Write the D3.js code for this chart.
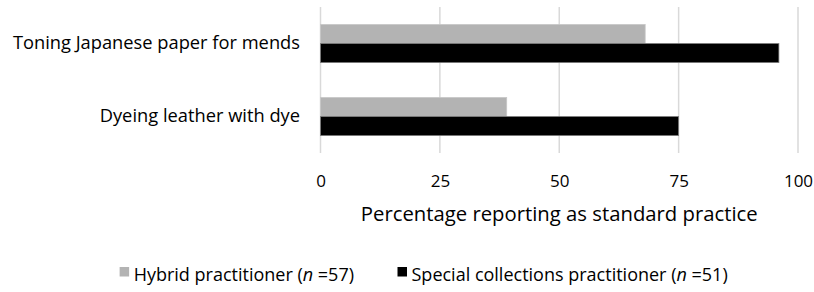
<!DOCTYPE html>
<html>
<head>
<meta charset="utf-8">
<script src="https://cdn.jsdelivr.net/npm/d3@7"></script>
<style>
  body { margin: 0; background: #fff; }
  svg text { font-family: "Open Sans", sans-serif; fill: #000; }
</style>
</head>
<body>
<div id="chart"></div>
<script>
"use strict";

// data
const categories = ["Toning Japanese paper for mends", "Dyeing leather with dye"];
const seriesNames = ["Hybrid practitioner", "Special collections practitioner"];
const seriesN = [57, 51];
const hybridValues = [68, 39];
const specialValues = [96, 75];
const xTicks = [0, 25, 50, 75, 100];
const colors = ["#b3b3b3", "#000000"];

function drawChart() {
  const width = 814, height = 292;
  const plot = { left: 320.5, right: 798, top: 7, bottom: 153 };

  const svg = d3
    .select("#chart")
    .append("svg")
    .attr("width", width)
    .attr("height", height);

  const x = d3.scaleLinear().domain([0, 100]).range([plot.left, plot.right]);

  const y = d3
    .scaleBand()
    .domain(categories)
    .range([plot.top, plot.bottom])
    .paddingInner(0.476)
    .paddingOuter(0.238);

  const ySub = d3
    .scaleBand()
    .domain([0, 1])
    .range([0, y.bandwidth()]);

  // gridlines
  svg
    .append("g")
    .selectAll("line")
    .data(xTicks)
    .enter()
    .append("line")
    .attr("x1", (d) => x(d))
    .attr("x2", (d) => x(d))
    .attr("y1", plot.top)
    .attr("y2", plot.bottom)
    .attr("stroke", "#d9d9d9")
    .attr("stroke-width", 1.5);

  // tick labels via axis
  const xAxis = d3.axisBottom(x).tickValues(xTicks).tickSize(0).tickPadding(0);
  const axisG = svg
    .append("g")
    .attr("transform", "translate(0," + plot.bottom + ")")
    .call(xAxis);
  axisG.select(".domain").remove();
  axisG
    .selectAll("text")
    .attr("dy", null)
    .attr("y", 34)
    .style("font-size", "17px")
    .style("font-family", "'Open Sans', sans-serif");

  // category labels
  svg
    .append("g")
    .selectAll("text")
    .data(categories)
    .enter()
    .append("text")
    .attr("x", 300)
    .attr("y", (d) => y(d) + y.bandwidth() / 2 + 5)
    .attr("text-anchor", "end")
    .style("font-size", "18.3px")
    .text((d) => d);

  const rows = [];
  categories.forEach((c, i) => {
    rows.push({ cat: c, s: 0, v: hybridValues[i] });
    rows.push({ cat: c, s: 1, v: specialValues[i] });
  });

  svg
    .append("g")
    .selectAll("rect")
    .data(rows)
    .enter()
    .append("rect")
    .attr("x", x(0))
    .attr("y", (d) => y(d.cat) + ySub(d.s))
    .attr("width", (d) => x(d.v) - x(0))
    .attr("height", ySub.bandwidth())
    .attr("fill", (d) => colors[d.s])
    .attr("stroke", (d) => (d.s === 1 ? "#7f7f7f" : "#c8c8c8"))
    .attr("stroke-width", 0.75);

  // axis title
  svg
    .append("text")
    .attr("x", (plot.left + plot.right) / 2)
    .attr("y", 221)
    .attr("text-anchor", "middle")
    .style("font-size", "20.3px")
    .text("Percentage reporting as standard practice");

  // legend: second entry starts at a fixed spot, first ends just before it
  const lg = svg
    .append("g")
    .selectAll("g")
    .data(seriesNames)
    .enter()
    .append("g");

  lg.append("rect")
    .attr("x", 0)
    .attr("y", 267)
    .attr("width", 9.5)
    .attr("height", 9.5)
    .attr("fill", (d, i) => colors[i]);

  const lt = lg
    .append("text")
    .attr("x", 14)
    .attr("y", 281)
    .style("font-size", "18px");
  lt.append("tspan").text((d) => d + " (");
  lt.append("tspan").style("font-style", "italic").text("n");
  lt.append("tspan").text((d, i) => " =" + seriesN[i] + ")");

  const w1 = lt.nodes()[0].getComputedTextLength();
  const secondX = 397.5;
  const firstX = 354 - w1 - 14;
  lg.attr("transform", (d, i) => "translate(" + (i === 0 ? firstX : secondX) + ",0)");
}

drawChart();
</script>
</body>
</html>
